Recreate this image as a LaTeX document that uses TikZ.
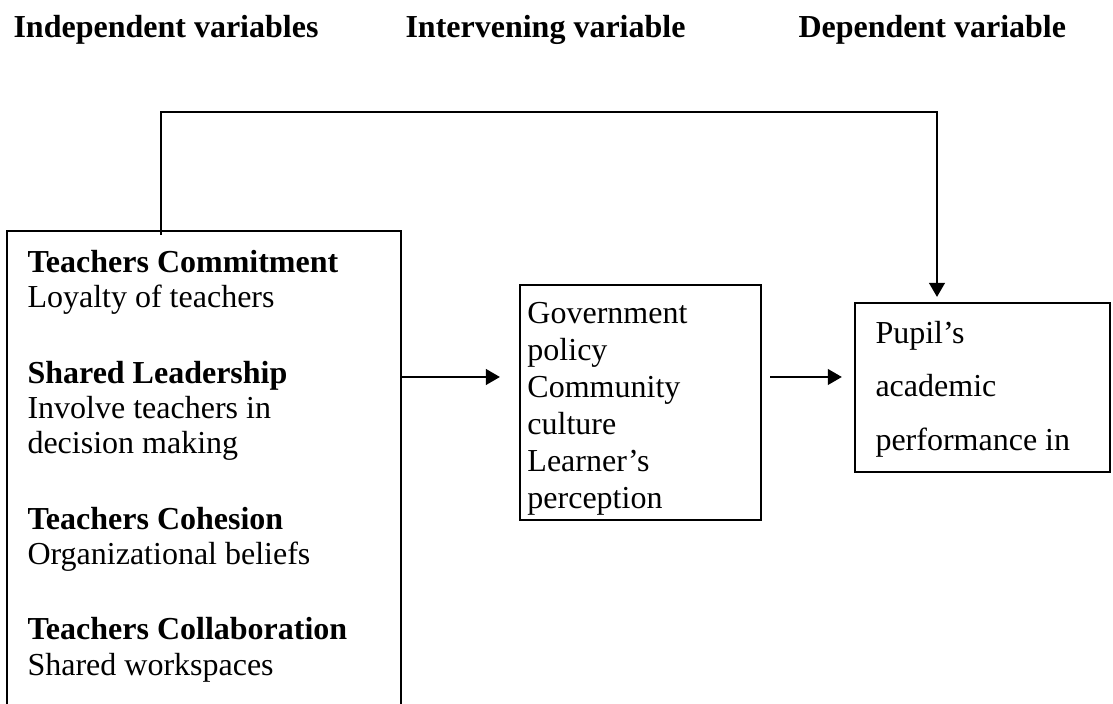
\documentclass[tikz,border=0pt]{standalone}
\usepackage{fontspec}
\setmainfont{Liberation Serif}
\usetikzlibrary{positioning,arrows.meta}

\begin{document}
\begin{tikzpicture}[x=0.375pt,y=-0.375pt,
    box/.style={draw,line width=0.7pt,inner sep=0pt,outer sep=0pt,anchor=north west},
    head/.style={anchor=base west,inner sep=0pt,font=\fontsize{12}{14}\selectfont\bfseries},
    txt/.style={align=left,inner sep=0pt},
    conn/.style={line width=1.05pt},
    >={Triangle[length=5.3pt,width=5.8pt]}]

  \useasboundingbox (0,0) rectangle (1113,704);

  % Column headings
  \node [head] (hind) at (13,38) {Independent variables};
  \node [head] (hint) at (405,38) {Intervening variable};
  \node [head] (hdep) at (798,38) {Dependent variable};

  % Boxes
  \node [box,minimum width=147.75pt,minimum height=181.5pt] (indep) at (7,231) {};
  \node [box,minimum width=90.375pt,minimum height=88.125pt] (inter) at (520,285) {};
  \node [box,minimum width=95.625pt,minimum height=63.375pt] (dep) at (855,303) {};

  % Box texts
  \node [txt,font=\fontsize{12}{13.25}\selectfont,below right=6.1pt and 7.5pt of indep.north west] (indeptxt)
    {\strut\textbf{Teachers Commitment}\\ Loyalty of teachers\\[15pt]
     \textbf{Shared Leadership}\\ Involve teachers in\\ decision making\\[15pt]
     \textbf{Teachers Cohesion}\\ Organizational beliefs\\[15pt]
     \textbf{Teachers Collaboration}\\ Shared workspaces};
  \node [txt,font=\fontsize{12}{13.9}\selectfont,below right=4.5pt and 2.6pt of inter.north west] (intertxt)
    {\strut Government\\ policy\\ Community\\ culture\\ Learner’s\\ perception};
  \node [txt,font=\fontsize{12}{20}\selectfont,below right=1pt and 7.5pt of dep.north west] (deptxt)
    {\strut Pupil’s\\ academic\\ performance in};

  % Links
  \coordinate (mid) at (0,377);
  \coordinate (c1) at (161,112);
  \coordinate (c2) at (937,112);
  \draw [conn,->,shorten >=7.5pt] (indep.east |- mid) -- (inter.west |- mid);
  \draw [conn,->,shorten <=3.4pt,shorten >=4.9pt] (inter.east |- mid) -- (dep.west |- mid);
  \draw [conn,->,shorten <=-1.5pt,shorten >=2.25pt] (c1 |- indep.north) -- (c1) -- (c2) -- (c2 |- dep.north);

\end{tikzpicture}
\end{document}
